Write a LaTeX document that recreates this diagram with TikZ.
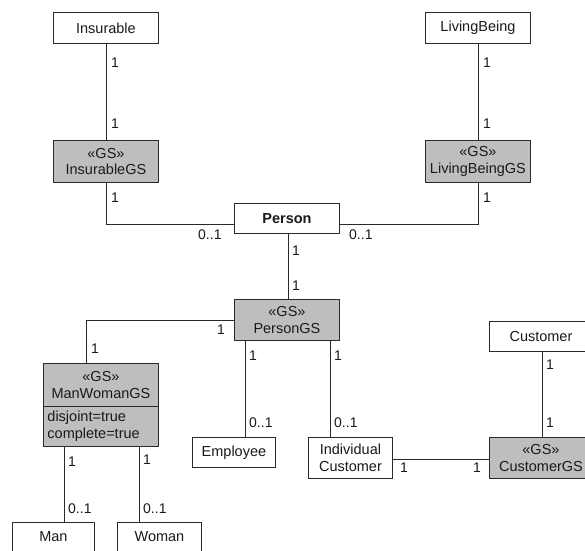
\documentclass[tikz,border=0pt]{standalone}
\usepackage{fontspec}
\setmainfont{Liberation Sans}
\definecolor{linec}{HTML}{2A2A2A}
\definecolor{gsfill}{HTML}{BEBEBE}
\definecolor{textc}{HTML}{1A1A1A}
\begin{document}
\begin{tikzpicture}[x=1pt,y=-1pt,
  box/.style={draw=linec, line width=0.9pt, fill=white, inner sep=1pt,
    align=center, text=textc, font=\fontsize{14.5}{16.5}\selectfont, anchor=north west},
  gsbox/.style={box, fill=gsfill},
  mult/.style={inner sep=0pt, anchor=west, text=textc, font=\fontsize{14}{16}\selectfont},
  conn/.style={draw=linec, line width=0.9pt}]
\useasboundingbox (0,0) rectangle (585,550);
\clip (0,0) rectangle (585,550);

% classes
\node[box, minimum width=105pt, minimum height=31pt] (ins) at (53,12) {Insurable};
\node[box, minimum width=105pt, minimum height=31pt] (lb) at (425,12) {LivingBeing};
\node[box, minimum width=105pt, minimum height=30pt, font=\fontsize{14.5}{16.5}\selectfont\bfseries] (person) at (234,203) {Person};
\node[box, minimum width=83pt, minimum height=30pt] (emp) at (192,437) {Employee};
\node[box, minimum width=84pt, minimum height=41pt] (ic) at (308,437) {Individual\\Customer};
\node[box, minimum width=103pt, minimum height=30pt] (cust) at (489,321) {Customer};
\node[box, minimum width=82pt, minimum height=38pt, anchor=north west] (man) at (12,522) {\raisebox{0pt}[0pt][0pt]{}};
\node[box, minimum width=84pt, minimum height=38pt] (woman) at (117,522) {};
\node[inner sep=0pt, text=textc, font=\fontsize{14.5}{16.5}\selectfont] (mantext) at ([yshift=-15pt]man.north) {Man};
\node[inner sep=0pt, text=textc, font=\fontsize{14.5}{16.5}\selectfont] (womantext) at ([yshift=-15pt]woman.north) {Woman};

% generalization sets
\node[gsbox, minimum width=105pt, minimum height=42pt] (insgs) at (53,140) {«GS»\\InsurableGS};
\node[gsbox, minimum width=105pt, minimum height=42pt] (lbgs) at (425,140) {«GS»\\LivingBeingGS};
\node[gsbox, minimum width=105pt, minimum height=41pt] (pgs) at (234,299) {«GS»\\PersonGS};
\node[gsbox, minimum width=115pt, minimum height=43pt] (mwgs) at (43,363) {«GS»\\ManWomanGS};
\node[gsbox, minimum width=115pt, minimum height=40pt, inner xsep=4pt, text width=107pt, align=left] (mwattr) at (43,406) {disjoint=true\\complete=true};
\node[gsbox, minimum width=103pt, minimum height=41pt] (cgs) at (489,437) {«GS»\\CustomerGS};

% associations
\draw[conn] (ins.south) -- (insgs.north);
\draw[conn] (lb.south) -- (lbgs.north);
\draw[conn] (insgs.south) |- ([yshift=-6pt]person.west);
\draw[conn] (lbgs.south) |- ([yshift=-6pt]person.east);
\draw[conn] ([xshift=1.5pt]person.south) -- ([xshift=1.5pt]pgs.north);
\draw[conn] (pgs.west) -| ([xshift=-14.5pt]mwgs.north);
\draw[conn] ([xshift=11pt]man.north) -- ([xshift=11pt]man.north |- mwattr.south);
\draw[conn] ([xshift=-20pt]woman.north) -- ([xshift=-20pt]woman.north |- mwattr.south);
\draw[conn] ([xshift=11.5pt]emp.north) -- ([xshift=11.5pt]emp.north |- pgs.south);
\draw[conn] ([xshift=-20pt]ic.north) -- ([xshift=-20pt]ic.north |- pgs.south);
\draw[conn] ([yshift=-1.5pt]ic.east) -- ([yshift=-1.5pt]ic.east -| cgs.west);
\draw[conn] ([xshift=1.5pt]cust.south) -- ([xshift=1.5pt]cgs.north);

% multiplicities
\node[mult] (m1) at (111,63) {1};
\node[mult] (m2) at (111,124) {1};
\node[mult] (m3) at (111,198) {1};
\node[mult] (m4) at (198,235) {0..1};
\node[mult] (m5) at (483,63) {1};
\node[mult] (m6) at (483,124) {1};
\node[mult] (m7) at (483,198) {1};
\node[mult] (m8) at (349,235) {0..1};
\node[mult] (m9) at (292,251) {1};
\node[mult] (m10) at (292,286) {1};
\node[mult] (m11) at (217,330) {1};
\node[mult] (m12) at (91,349) {1};
\node[mult] (m13) at (68,462) {1};
\node[mult] (m14) at (68,509) {0..1};
\node[mult] (m15) at (143,460) {1};
\node[mult] (m16) at (143,509) {0..1};
\node[mult] (m17) at (249,356) {1};
\node[mult] (m18) at (249,423) {0..1};
\node[mult] (m19) at (334,356) {1};
\node[mult] (m20) at (334,423) {0..1};
\node[mult] (m21) at (400,468) {1};
\node[mult] (m22) at (473,468) {1};
\node[mult] (m23) at (546,365) {1};
\node[mult] (m24) at (546,423) {1};
\end{tikzpicture}
\end{document}
